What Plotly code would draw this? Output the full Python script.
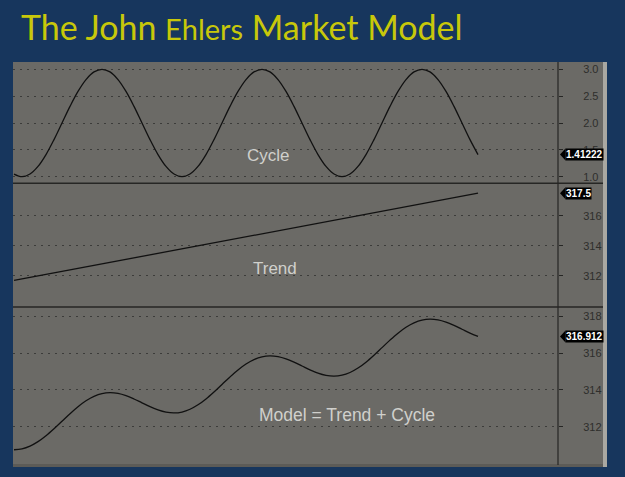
import plotly.graph_objects as go

W, H = 625, 477

bars = list(range(59))
cycle = [1.049, 1.000, 1.049, 1.191, 1.412, 1.691, 2.000, 2.309, 2.588, 2.809,
         2.951, 3.000, 2.951, 2.809, 2.588, 2.309, 2.000, 1.691, 1.412, 1.191,
         1.049, 1.000, 1.049, 1.191, 1.412, 1.691, 2.000, 2.309, 2.588, 2.809,
         2.951, 3.000, 2.951, 2.809, 2.588, 2.309, 2.000, 1.691, 1.412, 1.191,
         1.049, 1.000, 1.049, 1.191, 1.412, 1.691, 2.000, 2.309, 2.588, 2.809,
         2.951, 3.000, 2.951, 2.809, 2.588, 2.309, 2.000, 1.691, 1.412]
trend = [311.7, 311.8, 311.9, 312.0, 312.1, 312.2, 312.3, 312.4, 312.5, 312.6,
         312.7, 312.8, 312.9, 313.0, 313.1, 313.2, 313.3, 313.4, 313.5, 313.6,
         313.7, 313.8, 313.9, 314.0, 314.1, 314.2, 314.3, 314.4, 314.5, 314.6,
         314.7, 314.8, 314.9, 315.0, 315.1, 315.2, 315.3, 315.4, 315.5, 315.6,
         315.7, 315.8, 315.9, 316.0, 316.1, 316.2, 316.3, 316.4, 316.5, 316.6,
         316.7, 316.8, 316.9, 317.0, 317.1, 317.2, 317.3, 317.4, 317.5]
model = [310.749, 310.800, 310.949, 311.191, 311.512, 311.891, 312.300, 312.709, 313.088, 313.409,
         313.651, 313.800, 313.851, 313.809, 313.688, 313.509, 313.300, 313.091, 312.912, 312.791,
         312.749, 312.800, 312.949, 313.191, 313.512, 313.891, 314.300, 314.709, 315.088, 315.409,
         315.651, 315.800, 315.851, 315.809, 315.688, 315.509, 315.300, 315.091, 314.912, 314.791,
         314.749, 314.800, 314.949, 315.191, 315.512, 315.891, 316.300, 316.709, 317.088, 317.409,
         317.651, 317.800, 317.851, 317.809, 317.688, 317.509, 317.300, 317.091, 316.912]

cycle_ticks = [1.0, 1.5, 2.0, 2.5, 3.0]
cycle_ticktext = ["1.0", "1.5", "2.0", "2.5", "3.0"]
trend_ticks = [312, 314, 316]
model_ticks = [312, 314, 316, 318]

title_text = "The John <span style='font-size:29px'>Ehlers</span> Market Model"
cycle_tag = "1.41222"
trend_tag = "317.5"
model_tag = "316.912"


def px(x):
    return x / W


def py(y):
    return 1 - y / H


BG = "#17365d"
PANEL = "#6b6a66"
GRID = "#3c3c3a"
DARK = "#262624"

fig = go.Figure()
fig.add_trace(go.Scatter(x=bars, y=cycle, mode="lines", line=dict(color="#111", width=1.3, shape="spline"),
                         xaxis="x", yaxis="y", showlegend=False, hoverinfo="skip"))
fig.add_trace(go.Scatter(x=bars, y=trend, mode="lines", line=dict(color="#111", width=1.3),
                         xaxis="x", yaxis="y2", showlegend=False, hoverinfo="skip"))
fig.add_trace(go.Scatter(x=bars, y=model, mode="lines", line=dict(color="#111", width=1.3, shape="spline"),
                         xaxis="x", yaxis="y3", showlegend=False, hoverinfo="skip"))

xdom = [px(13), px(558)]
xrange = [-0.125, 68.0]

yax_common = dict(side="right", anchor="x", showgrid=True, gridcolor=GRID, griddash="2px,5px", gridwidth=1,
                  zeroline=False, showline=False, ticks="outside", ticklen=4, tickcolor=DARK,
                  tickfont=dict(family="Liberation Sans, Arial", size=11, color="#2e2e2c"),
                  ticklabelstandoff=18)

fig.update_layout(
    width=W, height=H, margin=dict(l=0, r=0, t=0, b=0),
    paper_bgcolor=BG, plot_bgcolor="rgba(0,0,0,0)",
    xaxis=dict(domain=xdom, range=xrange, showgrid=False, zeroline=False, showticklabels=False,
               ticks="", showline=False),
    yaxis=dict(domain=[py(183.3), py(62)], range=[0.877, 3.136], tickvals=cycle_ticks,
               ticktext=cycle_ticktext, **yax_common),
    yaxis2=dict(domain=[py(307), py(183.3)], range=[309.93, 318.16], tickvals=trend_ticks, **yax_common),
    yaxis3=dict(domain=[py(467), py(307)], range=[309.81, 318.51], tickvals=model_ticks, **yax_common),
)

shapes = [
    dict(type="rect", xref="paper", yref="paper", x0=px(13), x1=px(603), y0=py(467), y1=py(62),
         fillcolor=PANEL, line=dict(width=0), layer="below"),
    dict(type="rect", xref="paper", yref="paper", x0=px(603), x1=px(607), y0=py(467), y1=py(62),
         fillcolor="#a9a8a2", line=dict(width=0), layer="below"),
    dict(type="rect", xref="paper", yref="paper", x0=px(13), x1=px(603), y0=py(467), y1=py(464),
         fillcolor="#5c5b57", line=dict(width=0), layer="below"),
    dict(type="line", xref="paper", yref="paper", x0=px(13), x1=px(603), y0=py(183.3), y1=py(183.3),
         line=dict(color=DARK, width=1.5)),
    dict(type="line", xref="paper", yref="paper", x0=px(13), x1=px(603), y0=py(307), y1=py(307),
         line=dict(color=DARK, width=1.5)),
    dict(type="line", xref="paper", yref="paper", x0=px(558), x1=px(558), y0=py(465), y1=py(62),
         line=dict(color=DARK, width=1.2)),
]

annotations = [
    dict(text=title_text, xref="paper", yref="paper", x=px(19), y=py(27), xanchor="left", yanchor="middle",
         showarrow=False,
         font=dict(family="Lato, Open Sans", size=34, color="#c8c80a")),
    dict(text="Cycle", xref="paper", yref="paper", x=px(268), y=py(156), xanchor="center", yanchor="middle",
         showarrow=False, font=dict(family="Liberation Sans, Arial", size=17, color="#d0d0cc")),
    dict(text="Trend", xref="paper", yref="paper", x=px(275), y=py(268), xanchor="center", yanchor="middle",
         showarrow=False, font=dict(family="Liberation Sans, Arial", size=17, color="#d0d0cc")),
    dict(text="Model = Trend + Cycle", xref="paper", yref="paper", x=px(347), y=py(415), xanchor="center",
         yanchor="middle", showarrow=False, font=dict(family="Liberation Sans, Arial", size=17.5, color="#d0d0cc")),
]

for yref, val, txt in [("y", cycle[-1], cycle_tag), ("y2", trend[-1], trend_tag), ("y3", model[-1], model_tag)]:
    annotations.append(dict(text="<b>" + txt + "</b>", xref="paper", yref=yref, x=px(565), y=val,
                            xanchor="left", yanchor="middle", showarrow=False, bgcolor="#000",
                            borderpad=0, font=dict(family="Liberation Sans, Arial", size=10, color="#fff")))
    shapes.append(dict(type="path", xref="paper", yref=yref, xsizemode="pixel", ysizemode="pixel",
                       xanchor=px(565), yanchor=val, path="M0.5,-6 L-5,0 L0.5,6 Z",
                       fillcolor="#000", line=dict(width=0)))

fig.update_layout(shapes=shapes, annotations=annotations)
fig.write_html("out.html")
